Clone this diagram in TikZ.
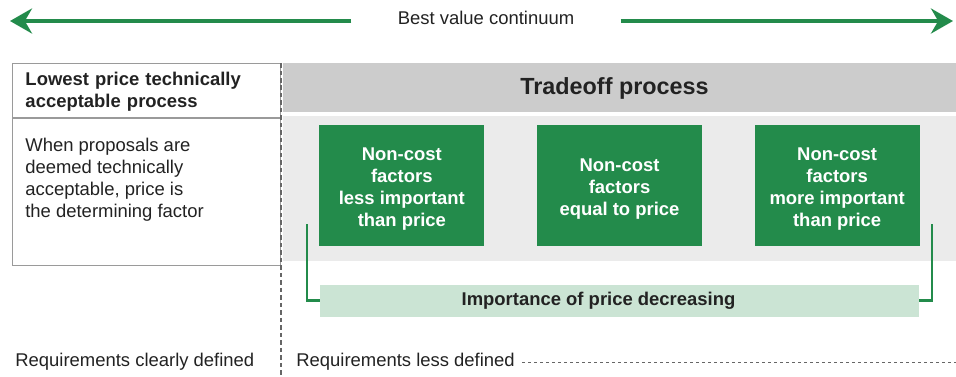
\documentclass[tikz,border=0pt]{standalone}
\usepackage{fontspec}
\setmainfont{Liberation Sans}
\usetikzlibrary{arrows.meta, positioning}
\definecolor{valueGreen}{HTML}{238B4B}
\definecolor{barGreen}{HTML}{CBE4D4}
\definecolor{headGray}{HTML}{CCCCCC}
\definecolor{panelGray}{HTML}{EBEBEB}
\definecolor{frameGray}{HTML}{9A9A9A}
\definecolor{textDark}{HTML}{222222}

\begin{document}
\begin{tikzpicture}[x=0.02cm, y=-0.02cm, >=Stealth, text=textDark,
	font=\fontsize{10.5}{12.5}\selectfont,
	continuum/.style={valueGreen, line width=0.08cm, -{Stealth[length=0.44cm, width=0.5cm]}},
	lptabox/.style={draw=frameGray, line width=0.02cm, minimum width=5.36cm, inner sep=0pt},
	factorbox/.style={fill=valueGreen, text=white, align=center, font=\fontsize{10.5}{12.5}\selectfont\bfseries,
		minimum width=3.3cm, minimum height=2.42cm, inner sep=0pt},
	bracket/.style={valueGreen, line width=0.05cm},
	divider/.style={gray!80!black, line width=0.03cm, dash pattern=on 0.09cm off 0.06cm}
	]
	
	% --- 1. Frame of the picture ---
	\useasboundingbox (0,0) rectangle (956,376);
	
	% --- 2. Best value continuum ---
	\node[inner ysep=0pt, inner xsep=0.92cm] (title) at (486,18) {Best value continuum};
	\coordinate (lowEnd) at (10,21);
	\coordinate (highEnd) at (953,21);
	\draw[continuum] (title.west |- lowEnd) -- (lowEnd);
	\draw[continuum] (title.east |- highEnd) -- (highEnd);
	
	% --- 3. Lowest price technically acceptable ---
	\node[lptabox, minimum height=1.08cm, anchor=north west, text width=4.84cm, inner xsep=0.26cm,
		align=left, font=\fontsize{10.5}{12.5}\selectfont\bfseries] (lptaHead) at (12,63)
		{\rule{0pt}{9pt}Lowest price technically\\acceptable process};
	\node[lptabox, minimum height=2.94cm, anchor=north west] (lptaBody) at (lptaHead.south west) {};
	\node[anchor=north west, align=left, inner sep=0pt] (lptaText)
		at ([xshift=0.26cm, yshift=-0.4cm]lptaBody.north west)
		{When proposals are\\deemed technically\\acceptable, price is\\the determining factor};
	
	% --- 4. Tradeoff process ---
	\node[fill=headGray, minimum width=13.46cm, minimum height=0.98cm, inner sep=0pt,
		font=\fontsize{13.3}{15}\selectfont\bfseries] (tradeHead) at (619.5,87.5)
		{\rule{0pt}{11pt}Tradeoff process\rule{0.2cm}{0pt}};
	\node[fill=panelGray, minimum width=13.46cm, minimum height=2.9cm, inner sep=0pt] (panel) at (619.5,188.5) {};
	
	% the three weightings
	\node[factorbox] (factorEqual) at (619.5,185.5) {\rule{0pt}{11pt}Non-cost\\factors\\equal to price};
	\node[factorbox, left=1.04cm of factorEqual] (factorLess) {\rule{0pt}{11pt}Non-cost\\factors\\less important\\than price};
	\node[factorbox, right=1.04cm of factorEqual] (factorMore) {\rule{0pt}{11pt}Non-cost\\factors\\more important\\than price};
	
	% --- 5. Importance of price ---
	\node[fill=barGreen, minimum width=11.98cm, minimum height=0.64cm, inner sep=0pt,
		font=\fontsize{10.5}{12.5}\selectfont\bfseries, below=0.46cm of panel] (priceBar)
		{Importance of price decreasing\rule{0.84cm}{0pt}};
	\coordinate (bracketL) at (307,224);
	\coordinate (bracketR) at (932,224);
	\draw[bracket] (priceBar.west) -| (bracketL);
	\draw[bracket] (priceBar.east) -| (bracketR);
	
	% --- 6. Requirements ---
	\coordinate (splitTop) at (281,63);
	\coordinate (splitBottom) at (281,376);
	\draw[divider] (splitTop) -- (splitBottom);
	\node[anchor=west, inner sep=0pt] (reqClear) at (15,362) {Requirements clearly defined};
	\node[anchor=west, inner sep=0pt] (reqLess) at (296,362) {Requirements less defined};
	\coordinate (reqEnd) at (956,362);
	\draw[divider, line width=0.02cm, dash pattern=on 0.06cm off 0.06cm]
		([xshift=0.14cm]reqLess.east |- reqEnd) -- (reqEnd);
	
\end{tikzpicture}
\end{document}
